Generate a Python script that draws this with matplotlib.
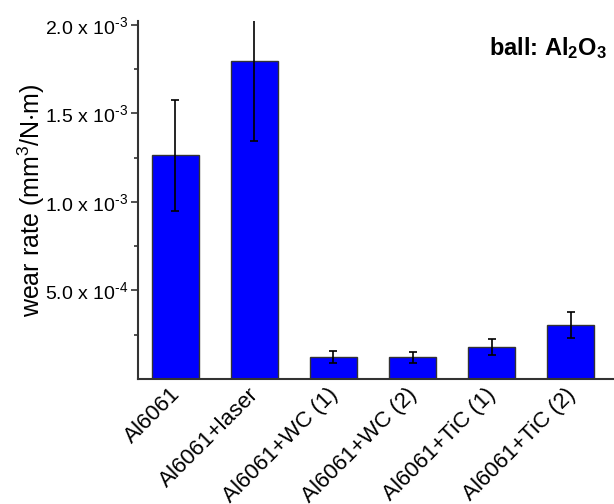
import matplotlib
matplotlib.use('Agg')
import matplotlib.pyplot as plt
import matplotlib.transforms as mtransforms
import numpy as np

# 시료 이름과 마모율 (mm^3/N·m)
samples = ['Al6061', 'Al6061+laser', 'Al6061+WC (1)', 'Al6061+WC (2)',
           'Al6061+TiC (1)', 'Al6061+TiC (2)']
wear_rate = [1.262e-3, 1.797e-3, 0.126e-3, 0.122e-3, 0.182e-3, 0.304e-3]
wear_err = [0.315e-3, 0.451e-3, 0.033e-3, 0.031e-3, 0.046e-3, 0.075e-3]

ytick_vals = [5.0e-4, 1.0e-3, 1.5e-3, 2.0e-3]
ytick_labels = [r'5.0 x 10$^{\text{-}4}$', r'1.0 x 10$^{\text{-}3}$',
                r'1.5 x 10$^{\text{-}3}$', r'2.0 x 10$^{\text{-}3}$']
yminor_vals = [2.5e-4, 7.5e-4, 1.25e-3, 1.75e-3]

plt.rcParams['font.family'] = ['Liberation Sans', 'DejaVu Sans']
plt.rcParams['mathtext.fontset'] = 'custom'
plt.rcParams['mathtext.rm'] = 'Liberation Sans'
plt.rcParams['mathtext.bf'] = 'Liberation Sans:bold'
plt.rcParams['mathtext.default'] = 'regular'

fig = plt.figure(figsize=(6.14, 5.04), dpi=100)
ax = fig.add_axes([0.224, 0.248, 0.776, 0.71])

x = np.arange(len(samples))
ax.bar(x, wear_rate, width=0.6, color='#0000ff', edgecolor='#333333', linewidth=1.0, zorder=2)
ax.errorbar(x, wear_rate, yerr=wear_err, fmt='none', ecolor='black',
            elinewidth=1.2, capsize=3, capthick=1.2, zorder=3)

ax.set_xlim(-0.48, 5.55)
ax.set_ylim(0, 2.02e-3)

ax.set_yticks(ytick_vals)
ax.set_yticklabels(ytick_labels, fontsize=14)
ax.set_yticks(yminor_vals, minor=True)
ax.set_xticks(x)
ax.set_xticklabels([])
ax.tick_params(axis='x', length=0)
ax.tick_params(axis='y', which='major', direction='out', length=5, width=1.2, color='#333333', pad=2)
ax.tick_params(axis='y', which='minor', direction='out', length=3, width=1.2, color='#333333')

# x 라벨은 막대 중앙보다 조금 왼쪽, 45도 회전
lbl_trans = ax.get_xaxis_transform() + mtransforms.ScaledTranslation(-0.06, -0.05, fig.dpi_scale_trans)
for xi, name in zip(x, samples):
    ax.text(xi, 0, name, transform=lbl_trans, fontsize=16, rotation=45,
            ha='right', va='top', rotation_mode='anchor', clip_on=False)

ax.set_ylabel(r'wear rate (mm$^3$/N$\cdot$m)', fontsize=18, labelpad=-2)

for side in ['top', 'right']:
    ax.spines[side].set_visible(False)
for side in ['left', 'bottom']:
    ax.spines[side].set_color('#333333')
    ax.spines[side].set_linewidth(1.5)

ax.text(0.985, 0.925, r'ball: Al$_2$O$_3$', transform=ax.transAxes, ha='right', va='center',
        fontsize=17, fontweight='bold')

fig.savefig('out.png', dpi=100)
